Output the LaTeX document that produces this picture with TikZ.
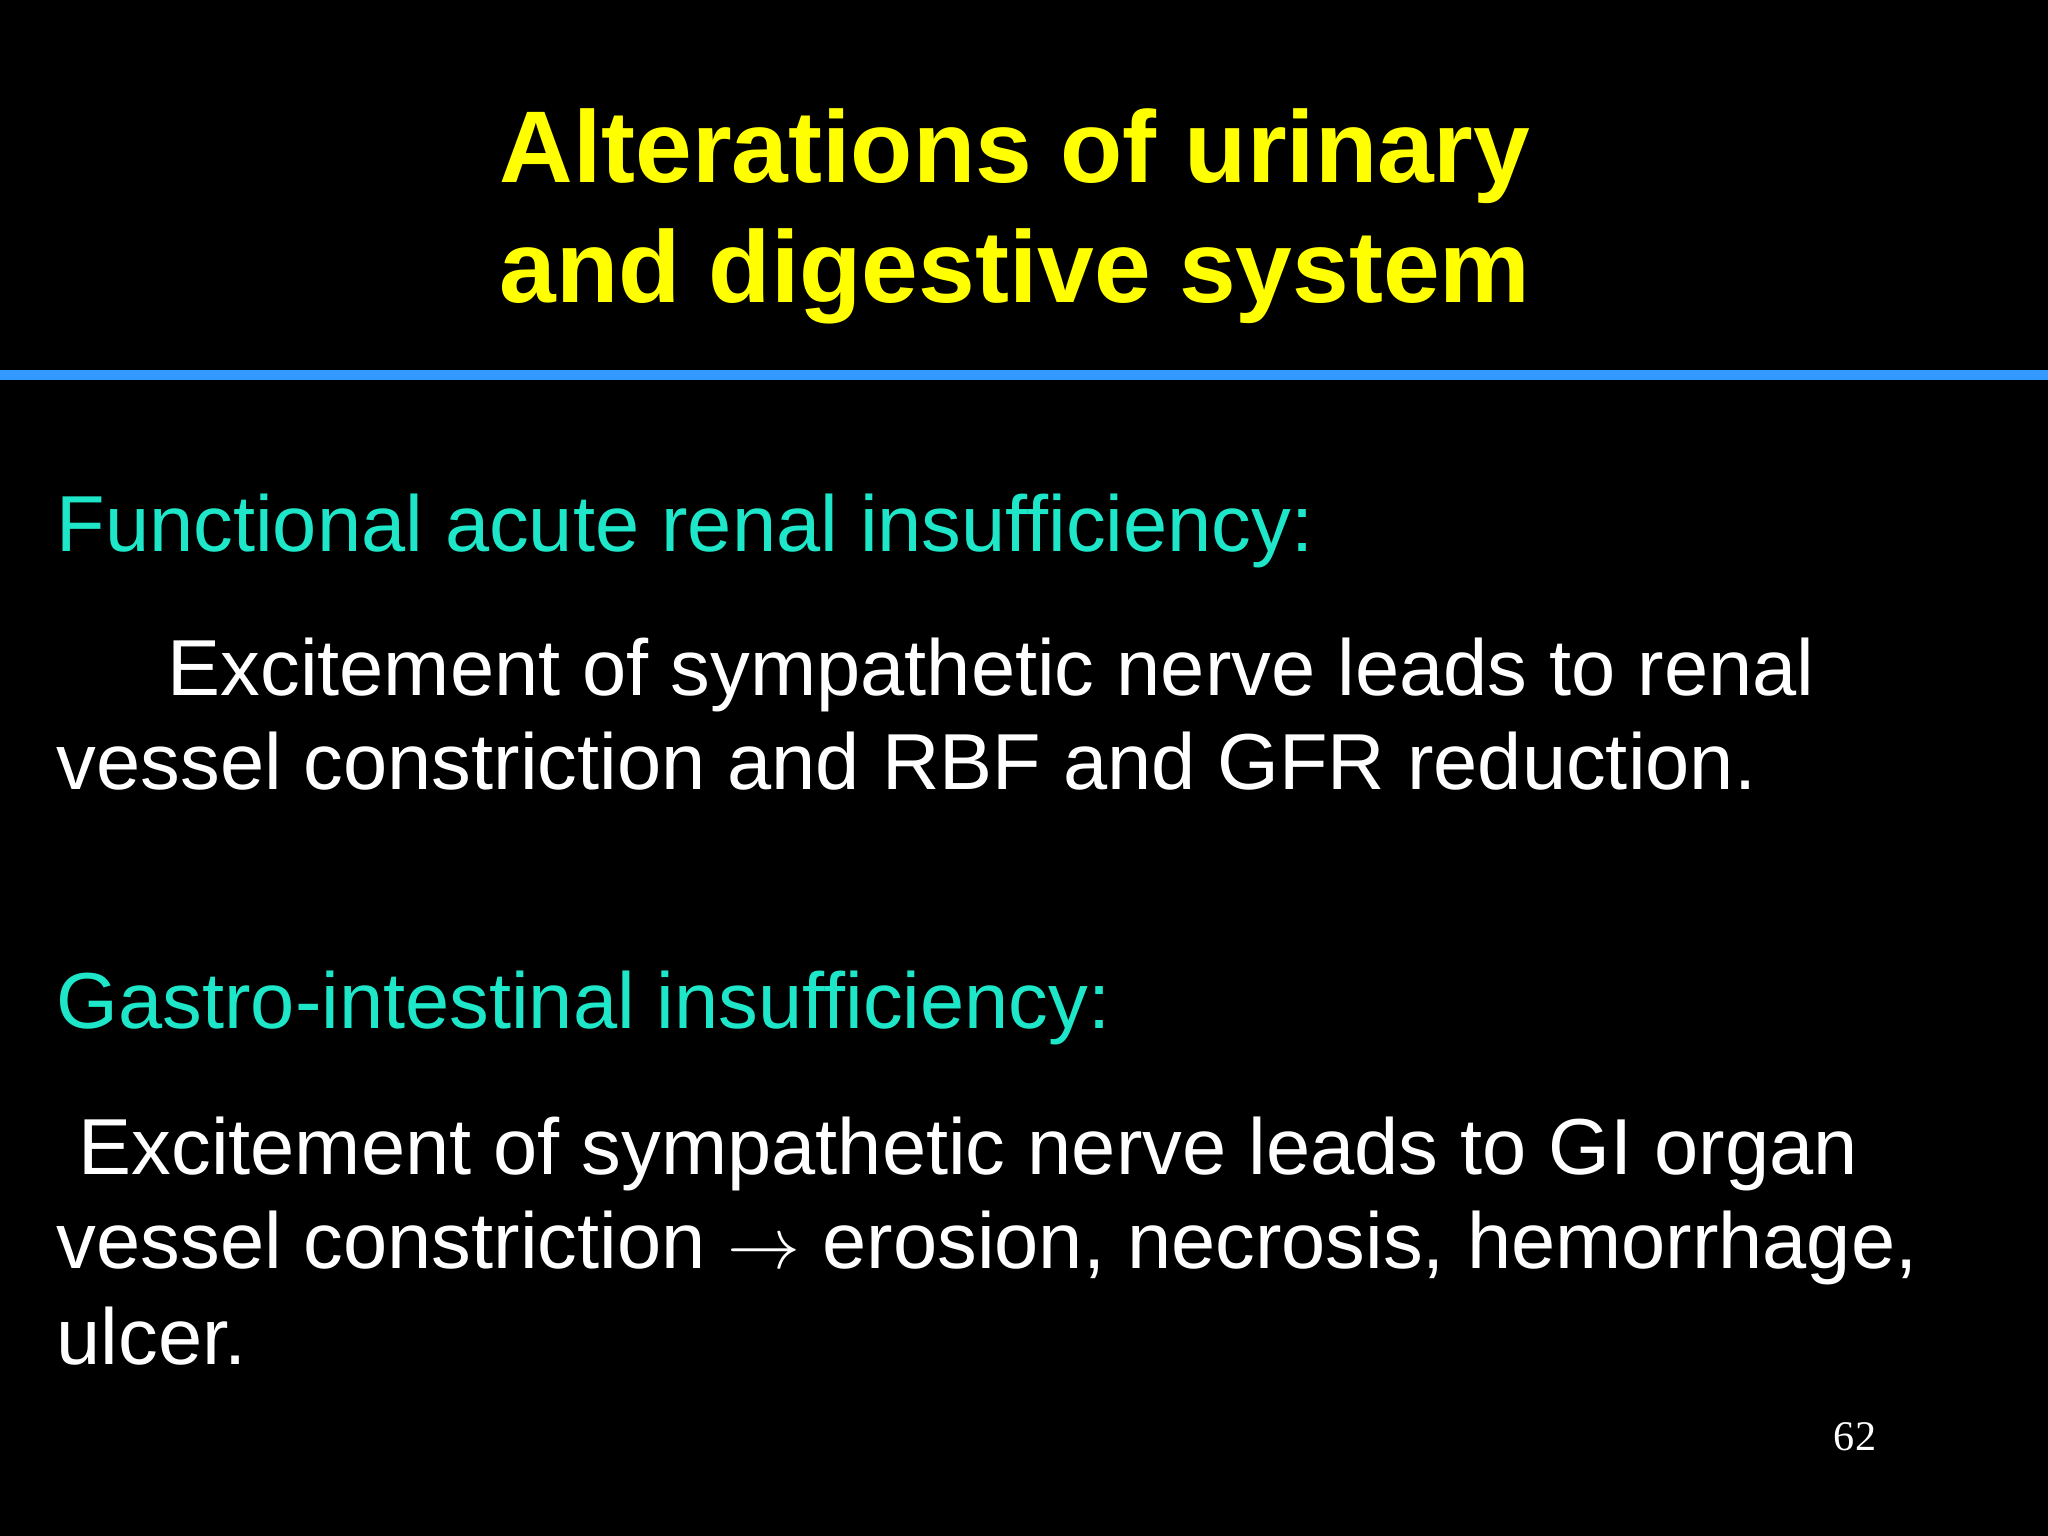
\documentclass[tikz,border=0pt]{standalone}
\usepackage{fontspec}
\setmainfont{Liberation Sans}
\newfontfamily\numfont{Liberation Serif}
\definecolor{ttl}{RGB}{255,255,0}
\definecolor{hd}{RGB}{30,230,200}
\definecolor{bar}{RGB}{51,153,255}
\begin{document}
\begin{tikzpicture}[x=1cm,y=1cm,
  title/.style={text=ttl,font=\fontsize{29}{34}\selectfont\bfseries,anchor=base,inner sep=0pt},
  head/.style={text=hd,font=\fontsize{22.6}{26}\selectfont,anchor=base west,inner sep=0pt},
  body/.style={text=white,font=\fontsize{22.6}{26}\selectfont,anchor=base west,inner sep=0pt}]
\fill[black] (0,0) rectangle (20.48,15.36);
\useasboundingbox (0,0) rectangle (20.48,15.36);
\node[title] (t1) at (10.15,13.53) {Alterations of urinary};
\node[title] (t2) at (10.15,12.33) {and digestive system};
\fill[bar] (0,11.56) rectangle (20.48,11.66);
\node[head] (h1) at (0.56,9.84) {Functional acute renal insufficiency:};
\node[body] (b1) at (1.67,8.40) {Excitement of sympathetic nerve leads to renal};
\node[body] (b2) at (0.56,7.46) {vessel constriction and RBF and GFR reduction.};
\node[head] (h2) at (0.56,5.07) {Gastro-intestinal insufficiency:};
\node[body] (b3) at (0.78,3.61) {Excitement of sympathetic nerve leads to GI organ};
\node[body] (b4) at (0.56,2.67) {vessel constriction $\rightarrow$ erosion, necrosis, hemorrhage,};
\node[body] (b5) at (0.56,1.71) {ulcer.};
\node[text=white,font=\numfont\fontsize{12}{14}\selectfont,anchor=base,inner sep=0pt] (pn) at (18.55,0.85) {62};
\end{tikzpicture}
\end{document}
